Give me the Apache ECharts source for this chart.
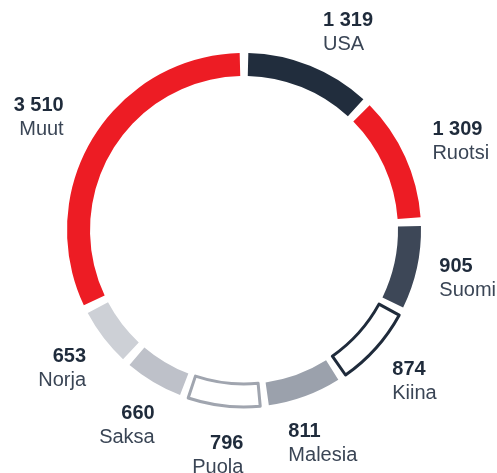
<!DOCTYPE html>
<html>
<head>
<meta charset="utf-8">
<script src="https://cdn.jsdelivr.net/npm/echarts@6/dist/echarts.min.js"></script>
<style>
    html, body { margin: 0; padding: 0; background: #fff; }
    #chartPie { width: 497px; height: 473px; }
</style>
</head>
<body>
<div id="chartPie"></div>
<script>
    // maat ja arvot
    const maat = ['USA', 'Ruotsi', 'Suomi', 'Kiina', 'Malesia', 'Puola', 'Saksa', 'Norja', 'Muut'];
    const arvot = [1319, 1309, 905, 874, 811, 796, 660, 653, 3510];
    // tyylit erikseen
    const varit = ['#212d3d', '#ed1c24', '#3d4757', '#ffffff', '#9ba1ac', '#ffffff', '#bec1c9', '#cdd0d6', '#ed1c24'];
    const reunat = [null, null, null, '#1f2b3b', null, '#a0a5af', null, null, null];

    const cx = 244, cy = 230;
    const labelRx = 229, labelRy = 227;

    const total = arvot.reduce((a, b) => a + b, 0);
    let acc = 0;
    const midAngles = arvot.map(v => {
        const m = (acc + v / 2) / total * Math.PI * 2;
        acc += v;
        return m;
    });

    function fmt(n) {
        return String(n).replace(/\B(?=(\d{3})+(?!\d))/g, ' ');
    }

    const data = maat.map((name, i) => {
        const item = { name: name, value: arvot[i], itemStyle: { color: varit[i] } };
        if (reunat[i]) {
            item.itemStyle.borderColor = reunat[i];
            item.itemStyle.borderWidth = 3;
        }
        return item;
    });

    const chart = echarts.init(document.getElementById('chartPie'));
    chart.setOption({
        animation: false,
        series: [{
            type: 'pie',
            center: [cx, cy],
            radius: [154, 177],
            startAngle: 90,
            clockwise: true,
            padAngle: 2.8,
            avoidLabelOverlap: false,
            emphasis: { disabled: true },
            label: {
                show: true,
                position: 'outside',
                formatter: p => '{v|' + fmt(p.value) + '}\n{n|' + p.name + '}',
                rich: {
                    v: { fontFamily: 'Liberation Sans, Arial', fontWeight: 'bold', fontSize: 20, lineHeight: 24, color: '#1f2b3b' },
                    n: { fontFamily: 'Liberation Sans, Arial', fontSize: 20, lineHeight: 24, color: '#3a4555' }
                }
            },
            labelLine: { show: false },
            labelLayout: function (params) {
                const a = midAngles[params.dataIndex];
                const s = Math.sin(a), c = Math.cos(a);
                const side = s >= 0 ? 1 : -1;
                // ylemmän puoliskon tekstit hieman ulospäin
                const x = cx + labelRx * s + side * 20 * Math.max(c, 0);
                const y = cy - labelRy * c * (c > 0 ? 0.94 : 1);
                const w = params.labelRect.width;
                if (side > 0) {
                    return { x: x - w / 2, y: y, align: 'left', verticalAlign: 'middle' };
                }
                return { x: x + w / 2, y: y, align: 'right', verticalAlign: 'middle' };
            },
            data: data
        }]
    });
</script>
</body>
</html>
